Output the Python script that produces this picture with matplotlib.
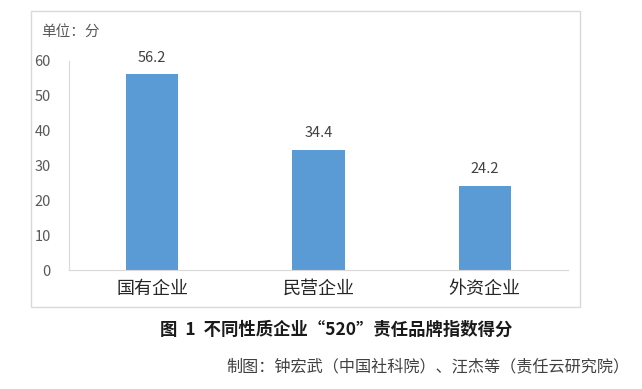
import matplotlib.pyplot as plt
from matplotlib.patches import Rectangle

plt.rcParams['font.family'] = ['Noto Sans CJK SC', 'DejaVu Sans']

# data
categories = ['国有企业', '民营企业', '外资企业']
scores = [56.2, 34.4, 24.2]
y_ticks = [0, 10, 20, 30, 40, 50, 60]

W, H = 642, 389
fig = plt.figure(figsize=(W / 100, H / 100), dpi=100)

# outer chart frame
fig.patches.append(Rectangle((31 / W, 1 - 307 / H), (580 - 31) / W, (307 - 11) / H,
                             transform=fig.transFigure, fill=False,
                             edgecolor='#d9d9d9', linewidth=1.0))

ax = fig.add_axes([69 / W, 1 - 270 / H, (568 - 69) / W, (270 - 61) / H])
x = list(range(len(categories)))
bars = ax.bar(x, scores, width=0.313, color='#5b9bd5', zorder=2)

for xi, v in zip(x, scores):
    ax.annotate(f'{v:.1f}', (xi, v), xytext=(0, 7), textcoords='offset points',
                ha='center', va='bottom', fontsize=10.5, color='#404040')

ax.set_xlim(-0.5, 2.5)
ax.set_ylim(0, 60)
ax.set_yticks(y_ticks)
ax.set_xticks(x)
ax.set_xticklabels(categories, fontsize=13, color='#262626')
ax.tick_params(axis='y', length=0, pad=13, labelsize=10.5, labelcolor='#595959')
ax.tick_params(axis='x', length=0, pad=7)

for side in ['top', 'right']:
    ax.spines[side].set_visible(False)
ax.spines['left'].set_color('#d9d9d9')
ax.spines['bottom'].set_color('#d9d9d9')

fig.text(41 / W, 1 - 32 / H, '单位：分', fontsize=10.5, color='#595959',
         ha='left', va='center')
fig.text(336 / W, 1 - 330 / H, '图  1  不同性质企业“520”责任品牌指数得分', fontsize=12.5,
         fontweight='bold', color='#1a1a1a', ha='center', va='center')
fig.text(629 / W, 1 - 367 / H, '制图：钟宏武（中国社科院）、汪杰等（责任云研究院）', fontsize=11.6,
         color='#404040', ha='right', va='center')

fig.savefig('out.png', dpi=100)
